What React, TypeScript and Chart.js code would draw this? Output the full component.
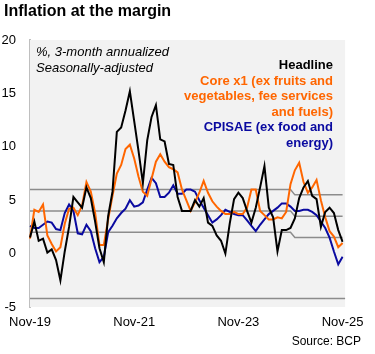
import React, { useEffect, useRef } from 'react';
import { Chart, registerables } from 'chart.js';

Chart.register(...registerables);

// Monthly categories, Nov-19 .. Nov-25
const MONTH_NAMES = ['Jan', 'Feb', 'Mar', 'Apr', 'May', 'Jun', 'Jul', 'Aug', 'Sep', 'Oct', 'Nov', 'Dec'];
const CATEGORIES: string[] = [];
for (let y = 2019; y <= 2025; y++) {
  for (let m = 0; m < 12; m++) {
    if (y === 2019 && m < 10) continue;
    if (y === 2025 && m > 10) continue;
    CATEGORIES.push(`${MONTH_NAMES[m]}-${String(y).slice(2)}`);
  }
}
const X_TICK_LABELS = ['Nov-19', 'Nov-21', 'Nov-23', 'Nov-25'];

const HEADLINE = [
  1.5, 3.0, 1.2, 1.4, 0.1, 0.4, -0.6, -2.5, 0.2, 2.5, 5.3, 4.8,
  4.3, 6.2, 5.2, 3.0, 0.5, -0.8, 3.5, 5.8, 11.4, 11.8, 13.4, 15.2,
  12.4, 9.6, 6.6, 10.6, 12.8, 13.9, 10.7, 10.5, 8.4, 8.3, 5.3, 4.0,
  4.0, 4.0, 5.0, 4.4, 5.2, 2.9, 2.6, 1.7, 1.2, 0.0, 2.8, 5.1,
  5.7, 5.2, 4.0, 2.9, 4.3, 6.2, 8.2, 4.3, 3.4, 0.2, 2.2, 2.2,
  2.4, 3.3, 5.2, 6.2, 6.8, 5.4, 5.1, 2.5, 3.9, 4.3, 3.8, 2.2,
  1.1,
];

const CORE_X1 = [
  1.4, 4.1, 3.9, 4.6, 1.7, 0.9, 0.2, 0.6, 2.8, 4.2, 4.3, 3.6,
  4.5, 6.7, 5.8, 3.8, 0.8, 0.8, 3.2, 5.4, 7.5, 8.3, 9.8, 10.2,
  8.9, 7.2, 5.8, 5.4, 7.0, 8.6, 9.3, 8.6, 8.1, 7.9, 7.6, 6.0,
  5.0, 4.0, 4.8, 5.7, 6.8, 5.7, 4.9, 4.4, 4.0, 3.7, 3.7, 3.9,
  3.7, 3.7, 4.3, 6.0, 6.0, 4.0, 3.6, 3.2, 3.2, 3.4, 3.3, 3.9,
  6.5, 7.8, 8.5, 6.7, 5.7, 6.2, 6.9, 5.0, 3.4, 2.1, 1.6, 0.6,
  1.0,
];

const CPISAE = [
  2.6, 2.4, 2.4, 2.7, 3.0, 2.9, 2.3, 2.2, 3.8, 4.6, 4.0, 1.9,
  1.8, 2.7, 2.1, 0.5, -0.8, -0.3, 2.0, 2.6, 3.3, 3.8, 4.2, 5.0,
  4.4, 4.5, 4.8, 6.0, 7.1, 6.6, 5.3, 5.3, 5.7, 6.4, 5.6, 5.6,
  6.0, 6.0, 5.8, 5.0, 4.3, 3.6, 2.9, 3.2, 3.6, 4.1, 3.9, 3.7,
  3.6, 3.6, 3.1, 2.6, 2.1, 2.7, 3.2, 3.7, 4.0, 4.3, 4.7, 4.7,
  4.4, 4.0, 4.0, 4.1, 4.1, 3.9, 3.6, 3.0, 2.4, 1.5, 0.2, -1.0,
  -0.3,
];

// Inflation target band (upper, centre, lower), step after Nov-24
const TARGET_UPPER = [
  { x: 'Nov-19', y: 6 }, { x: 'Nov-24', y: 6 }, { x: 'Dec-24', y: 5.5 }, { x: 'Nov-25', y: 5.5 },
];
const TARGET_CENTRE = [
  { x: 'Nov-19', y: 4 }, { x: 'Nov-24', y: 4 }, { x: 'Dec-24', y: 3.5 }, { x: 'Nov-25', y: 3.5 },
];
const TARGET_LOWER = [
  { x: 'Nov-19', y: 2 }, { x: 'Nov-24', y: 2 }, { x: 'Dec-24', y: 1.5 }, { x: 'Nov-25', y: 1.5 },
];
const BASE_LINE_VALUE = -4.2;

const Y_MIN = -5;
const Y_MAX = 20;
const Y_STEP = 5;

const BLACK = '#000000';
const ORANGE = '#FF6600';
const BLUE = '#0A0AA0';
const GREY = '#8C8C8C';
const FONT = '"Liberation Sans", Arial, sans-serif';

const backgroundPlugin = {
  id: 'plotBackground',
  beforeDatasetsDraw(chart: any) {
    const { ctx, chartArea, scales } = chart;
    const w = chartArea.right - chartArea.left + 2.5;
    ctx.save();
    ctx.fillStyle = '#F2F2F2';
    ctx.fillRect(chartArea.left, chartArea.top, w, chartArea.bottom - chartArea.top);
    const yb = Math.round(scales.y.getPixelForValue(BASE_LINE_VALUE)) + 0.5;
    ctx.strokeStyle = GREY;
    ctx.lineWidth = 1.5;
    ctx.beginPath();
    ctx.moveTo(chartArea.left, yb);
    ctx.lineTo(chartArea.left + w, yb);
    ctx.stroke();
    ctx.restore();
  },
};

export default function App() {
  const canvasRef = useRef<HTMLCanvasElement | null>(null);

  useEffect(() => {
    if (!canvasRef.current) return;
    const lineDs = (label: string, data: any, color: string, width: number) => ({
      label,
      data,
      borderColor: color,
      backgroundColor: color,
      borderWidth: width,
      pointRadius: 0,
      tension: 0,
      fill: false,
    });
    const chart = new Chart(canvasRef.current, {
      type: 'line',
      data: {
        labels: CATEGORIES,
        datasets: [
          lineDs('Headline', HEADLINE, BLACK, 2),
          lineDs('Core x1', CORE_X1, ORANGE, 2),
          lineDs('CPISAE', CPISAE, BLUE, 2),
          lineDs('Target upper', TARGET_UPPER, GREY, 1.5),
          lineDs('Target', TARGET_CENTRE, GREY, 1.5),
          lineDs('Target lower', TARGET_LOWER, GREY, 1.5),
        ],
      },
      options: {
        animation: false,
        responsive: false,
        devicePixelRatio: 1,
        layout: { padding: { left: 0, right: 32.4, top: 40, bottom: 0 } },
        plugins: {
          legend: { display: false },
          tooltip: { enabled: false },
          title: { display: false },
        },
        scales: {
          x: {
            type: 'category',
            grid: { display: false, drawTicks: false },
            border: { display: false },
            ticks: {
              autoSkip: false,
              maxRotation: 0,
              minRotation: 0,
              padding: 8,
              color: '#000',
              font: { family: FONT, size: 13 },
              callback: (_v: any, i: number) =>
                X_TICK_LABELS.includes(CATEGORIES[i]) ? CATEGORIES[i] : '',
            },
            afterFit: (s: any) => { s.height = 47; },
          },
          y: {
            min: Y_MIN,
            max: Y_MAX,
            grid: { display: false, drawTicks: false },
            border: { display: true, color: '#BFBFBF', width: 2 },
            ticks: {
              stepSize: Y_STEP,
              padding: 14,
              color: '#000',
              font: { family: FONT, size: 13 },
            },
            afterFit: (s: any) => { s.width = 30; },
          },
        },
      },
      plugins: [backgroundPlugin],
    });
    return () => chart.destroy();
  }, []);

  const base: React.CSSProperties = { position: 'absolute', fontFamily: FONT, whiteSpace: 'nowrap' };

  return (
    <div style={{ position: 'absolute', left: 0, top: 0, width: 375, height: 354, background: '#fff', overflow: 'hidden' }}>
      <canvas ref={canvasRef} width={375} height={354} style={{ position: 'absolute', left: 0, top: 0 }} />
      <div style={{ ...base, left: 4, top: 1, fontSize: 16, fontWeight: 'bold', lineHeight: '20px', color: '#000' }}>
        Inflation at the margin
      </div>
      <div style={{ ...base, left: 36, top: 44, fontSize: 13, fontStyle: 'italic', lineHeight: '15.5px', color: '#000' }}>
        %, 3-month annualized<br />Seasonally-adjusted
      </div>
      <div style={{ ...base, right: 42, top: 57, fontSize: 13, fontWeight: 'bold', lineHeight: '15.5px', textAlign: 'right' }}>
        <div style={{ color: BLACK }}>Headline</div>
        <div style={{ color: ORANGE }}>Core x1 (ex fruits and<br />vegetables, fee services<br />and fuels)</div>
        <div style={{ color: BLUE }}>CPISAE (ex food and<br />energy)</div>
      </div>
      <div style={{ ...base, right: 14, top: 334, fontSize: 12, lineHeight: '14px', color: '#000' }}>
        Source: BCP
      </div>
    </div>
  );
}
